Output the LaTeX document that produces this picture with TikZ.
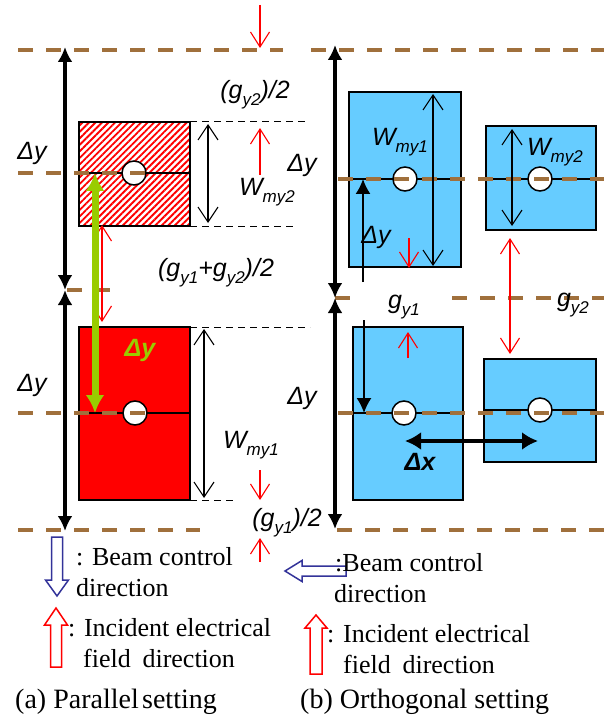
\documentclass[tikz,border=0pt]{standalone}
\usepackage{fontspec}
\setmainfont{Liberation Serif}
\newfontfamily\lab{Liberation Sans}
\usetikzlibrary{arrows.meta,patterns.meta}
\definecolor{guide}{RGB}{160,112,60}
\definecolor{skyb}{RGB}{102,204,255}
\definecolor{grn}{RGB}{153,204,0}
\definecolor{navyb}{RGB}{51,51,153}
\newcommand{\sbx}[1]{\raisebox{-0.28em}{\fontsize{17}{17}\selectfont #1}}
\tikzset{
  guideline/.style={guide,line width=4pt,dash pattern=on 15pt off 13pt},
  bigarr/.style={line width=3.4pt,{Latex[length=15pt,width=15pt]}-{Latex[length=15pt,width=15pt]}},
  thinarr/.style={line width=1.1pt,{Straight Barb[length=15pt,width=20pt]}-{Straight Barb[length=15pt,width=20pt]}},
  redarr/.style={red,line width=1.1pt,-{Straight Barb[length=15pt,width=19pt]}},
  redarrtwo/.style={red,line width=1.1pt,{Straight Barb[length=15pt,width=19pt]}-{Straight Barb[length=15pt,width=19pt]}},
  blkarr/.style={line width=1.6pt,-{Latex[length=15pt,width=15pt]}},
  boxline/.style={line width=1.5pt},
  dashblk/.style={line width=1pt,dash pattern=on 7pt off 5pt},
  hole/.style={circle,draw,fill=white,line width=1.5pt,minimum size=24pt,inner sep=0pt},
  lbl/.style={font=\lab\itshape\fontsize{25}{25}\selectfont,inner sep=0pt},
  leg/.style={font=\fontsize{26}{30}\selectfont,inner sep=0pt,anchor=base west},
  captext/.style={font=\fontsize{28}{30}\selectfont,inner sep=0pt,anchor=base west},
}
\begin{document}
\begin{tikzpicture}[x=1pt,y=-1pt]
\useasboundingbox (0,0) rectangle (604,719);
% ---------------- boxes (a)
\draw[boxline,pattern={Lines[angle=45,distance=4.6pt,line width=1.9pt]},pattern color=red] (79,122) rectangle (190,226);
\draw[boxline,fill=red] (79,327) rectangle (190,500);
\draw[boxline] (79,173) -- (190,173);
\draw[boxline] (79,413) -- (190,413);
\node[hole] (ca1) at (134,173) {};
\node[hole] (ca2) at (135,413) {};
% ---------------- boxes (b)
\draw[boxline,fill=skyb] (349,92) rectangle (461,267);
\draw[boxline,fill=skyb] (486,126) rectangle (596,230);
\draw[boxline,fill=skyb] (353,327) rectangle (463,500);
\draw[boxline,fill=skyb] (484,359) rectangle (596,462);
\draw[boxline] (349,179) -- (461,179);
\draw[boxline] (486,179) -- (596,179);
\draw[boxline] (353,413) -- (463,413);
\draw[boxline] (484,410) -- (596,410);
\node[hole] (cb1) at (405,179) {};
\node[hole] (cb2) at (540,179) {};
\node[hole] (cb3) at (404,413) {};
\node[hole] (cb4) at (540,410) {};
% ---------------- guide lines
\draw[guideline] (18,50) -- (283,50);
\draw[guideline] (311,50) -- (604,50);
\draw[guideline] (18,173) -- (147,173);
\draw[guideline] (338,179) -- (604,179);
\draw[guideline,dash pattern=on 15pt off 16pt] (67,290) -- (110,290);
\draw[guideline] (335,298) -- (352,298);
\draw[guideline] (452,298) -- (604,298);
\draw[guideline] (18,413) -- (145,413);
\draw[guideline] (338,413) -- (604,413);
\draw[guideline] (18,530) -- (200,530);
\draw[guideline] (337,530) -- (604,530);
% ---------------- dashed black lines (a)
\draw[dashblk] (190,122) -- (307,122);
\draw[dashblk] (190,226) -- (297,226);
\draw[dashblk] (190,327) -- (310,327);
\draw[dashblk] (190,500) -- (237,500);
% ---------------- big vertical arrows
\coordinate (a1) at (65,47); \coordinate (a2) at (65,290); \coordinate (a3) at (65,531);
\draw[bigarr] (a1) -- (a2);
\draw[bigarr] (a2) -- (a3);
\coordinate (b1) at (335,45); \coordinate (b2) at (335,298); \coordinate (b3) at (335,529);
\draw[bigarr] (b1) -- (b2);
\draw[bigarr] (b2) -- (b3);
% ---------------- thin double arrows
\draw[thinarr] (208,124) -- (208,223);
\draw[thinarr] (204,329) -- (204,498);
\draw[thinarr] (433,94) -- (433,266);
\draw[thinarr] (512,129) -- (512,226);
% ---------------- red arrows
\draw[redarr] (260,5) -- (260,48);
\draw[redarr] (260,175) -- (260,128);
\draw[redarrtwo] (102,225) -- (102,322);
\draw[redarr] (260,470) -- (260,500);
\draw[redarr] (260,562) -- (260,538);
\draw[redarr] (409,238) -- (409,268);
\draw[redarrtwo] (510,238) -- (510,354);
\draw[redarr] (408,358) -- (408,332);
% ---------------- green arrow
\draw[grn,line width=7pt,{Latex[length=18pt,width=19pt]}-{Latex[length=18pt,width=19pt]}] (95,173) -- (95,413);
\node[lbl,font=\lab\itshape\bfseries\fontsize{25}{25}\selectfont,text=grn] (gdy) at (140,350) {Δy};
% ---------------- black thin arrows (b)
\draw[blkarr] (363,282) -- (363,179);
\draw[blkarr] (364,320) -- (364,413);
% ---------------- Delta x
\draw[line width=4.5pt,{Latex[length=16pt,width=18pt]}-{Latex[length=16pt,width=18pt]}] (405,441) -- (538,441);
\node[lbl,font=\lab\itshape\bfseries\fontsize{25}{25}\selectfont] (dx) at (420,462) {Δx};
% ---------------- labels (a)
\node[lbl] (dy1) at (32,153) {Δy};
\node[lbl] (dy2) at (32,385) {Δy};
\node[lbl] (gy2h) at (255,95) {(g\sbx{y2})/2};
\node[lbl] (wm2) at (267,192) {W\sbx{my2}};
\node[lbl] (gsum) at (216,273) {(g\sbx{y1}+g\sbx{y2})/2};
\node[lbl] (wm1) at (251,445) {W\sbx{my1}};
\node[lbl] (gy1h) at (287,523) {(g\sbx{y1})/2};
% ---------------- labels (b)
\node[lbl] (dy3) at (302,165) {Δy};
\node[lbl] (dy4) at (302,398) {Δy};
\node[lbl] (wmb1) at (400,142) {W\sbx{my1}};
\node[lbl] (dyb) at (376,237) {Δy};
\node[lbl] (wmb2) at (555,152) {W\sbx{my2}};
\node[lbl] (gb1) at (404,307) {g\sbx{y1}};
\node[lbl] (gb2) at (573,305) {g\sbx{y2}};
% ---------------- legend (a)
\draw[navyb,line width=1.5pt] (51.5,537) -- (62.5,537) -- (62.5,580) -- (68.5,580) -- (57,596) -- (45.5,580) -- (51.5,580) -- cycle;
\draw[red,line width=1.5pt] (50.5,667) -- (61.5,667) -- (61.5,625) -- (67.5,625) -- (56,608) -- (44.5,625) -- (50.5,625) -- cycle;
\node[leg] (la1) at (76,565) {: Beam control};
\node[leg] (la2) at (76,596) {direction};
\node[leg] (la3) at (68,636) {: Incident electrical};
\node[leg] (la4) at (83,667) {field\hspace{0.45em}direction};
\node[captext] (capa) at (15,708) {(a) Parallel\hspace{0.12em}setting};
% ---------------- legend (b)
\draw[navyb,line width=1.5pt] (346,566) -- (346,576) -- (302,576) -- (302,581.5) -- (285,571) -- (302,560.5) -- (302,566) -- cycle;
\draw[red,line width=1.5pt] (310,674) -- (322,674) -- (322,628) -- (327,628) -- (316,615) -- (305,628) -- (310,628) -- cycle;
\node[leg] (lb1) at (335,571) {:Beam control};
\node[leg] (lb2) at (334,602) {direction};
\node[leg] (lb3) at (327,642) {: Incident electrical};
\node[leg] (lb4) at (343,673) {field\hspace{0.45em}direction};
\node[captext] (capb) at (300,708) {(b) Orthogonal setting};
\end{tikzpicture}
\end{document}
